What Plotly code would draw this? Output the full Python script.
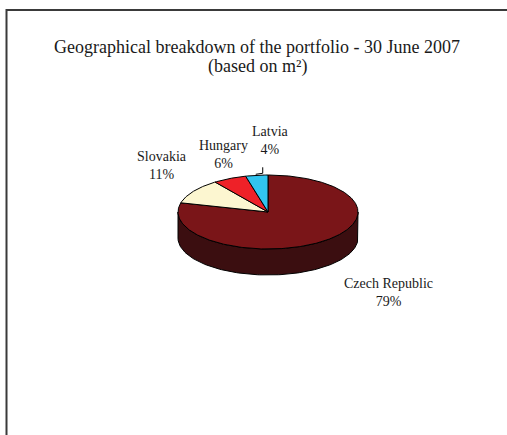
import numpy as np
import plotly.graph_objects as go

# Geographical breakdown of the portfolio (share of m²)
countries = ["Czech Republic", "Slovakia", "Hungary", "Latvia"]
shares = [79, 11, 6, 4]
top_colors = ["#7a1518", "#fcf6d0", "#ee2128", "#31c4ef"]
side_colors = ["#3b0e10", "#8c8870", "#841214", "#1b6c85"]

title_line1 = "Geographical breakdown of the portfolio - 30 June 2007"
title_line2 = "(based on m²)"

# Pie geometry in pixel space (x right, y down)
W, H = 507, 435
CX, CY = 268, 212
RX, RY = 90, 37
DEPTH = 26

# label anchor points (centre of each two-line label)
label_pos = {
    "Czech Republic": (388, 292),
    "Slovakia": (162, 165),
    "Hungary": (223, 154),
    "Latvia": (270, 140),
}

FONT = "Liberation Serif, Times New Roman, serif"
TEXT = "#1a1a1a"


def ell(theta_deg, dy=0.0):
    t = np.radians(theta_deg)
    return CX + RX * np.cos(t), CY - RY * np.sin(t) + dy


fig = go.Figure()

# slice angle ranges: start at 12 o'clock, run clockwise
total = float(sum(shares))
ranges = []
start = 90.0
for v in shares:
    end = start - 360.0 * v / total
    ranges.append((start, end))
    start = end

# visible side wall: front half of the disc (math angles 180..360)
for (a0, a1), col in zip(ranges, side_colors):
    hi, lo = a0, a1
    segs = []
    for k in range(-2, 2):
        f_lo, f_hi = 180 + 360 * k, 360 + 360 * k
        s_lo, s_hi = max(lo, f_lo), min(hi, f_hi)
        if s_hi > s_lo:
            segs.append((s_lo, s_hi))
    for s_lo, s_hi in segs:
        th = np.linspace(s_lo, s_hi, 120)
        xt, yt = ell(th)
        xb, yb = ell(th[::-1], DEPTH)
        xs = np.concatenate([xt, xb, xt[:1]])
        ys = np.concatenate([yt, yb, yt[:1]])
        fig.add_trace(go.Scatter(
            x=xs, y=ys, mode="lines", fill="toself", fillcolor=col,
            line=dict(color="#000000", width=1), hoverinfo="skip",
            showlegend=False))

# top faces of the slices
for (a0, a1), col, name in zip(ranges, top_colors, countries):
    th = np.linspace(a0, a1, max(8, int(abs(a0 - a1) * 2)))
    xa, ya = ell(th)
    xs = np.concatenate([[CX], xa, [CX]])
    ys = np.concatenate([[CY], ya, [CY]])
    fig.add_trace(go.Scatter(
        x=xs, y=ys, mode="lines", fill="toself", fillcolor=col,
        line=dict(color="#000000", width=1), name=name,
        hoverinfo="skip", showlegend=False))

# data labels
annotations = []
for name, v, (a0, a1) in zip(countries, shares, ranges):
    lx, ly = label_pos[name]
    annotations.append(dict(
        x=lx, y=ly, xref="x", yref="y", showarrow=False,
        text=f"{name}<br>{v}%", align="center",
        font=dict(family=FONT, size=14, color=TEXT)))

# leader line for the narrow Latvia slice
la0, la1 = ranges[countries.index("Latvia")]
sx, sy = ell((la0 + la1) / 2)
fig.add_trace(go.Scatter(
    x=[sx - 1, sx + 6, sx + 6], y=[sy - 1, sy - 2, sy - 8],
    mode="lines", line=dict(color="#000000", width=1),
    hoverinfo="skip", showlegend=False))

annotations.append(dict(
    x=0.507, y=47, xref="paper", yref="y", showarrow=False,
    text=title_line1, font=dict(family=FONT, size=18, color=TEXT)))
annotations.append(dict(
    x=0.507, y=66, xref="paper", yref="y", showarrow=False,
    text=title_line2, font=dict(family=FONT, size=18, color=TEXT)))

fig.update_layout(
    width=W, height=H,
    margin=dict(l=0, r=0, t=0, b=0),
    paper_bgcolor="#ffffff", plot_bgcolor="#ffffff",
    xaxis=dict(range=[0, W], visible=False, fixedrange=True),
    yaxis=dict(range=[H, 0], visible=False, fixedrange=True),
    annotations=annotations,
    shapes=[dict(type="rect", xref="x", yref="y",
                 x0=6.5, y0=10, x1=W + 20, y1=H + 20,
                 line=dict(color="#3a3a3a", width=2))],
)

fig.write_html("out.html")
